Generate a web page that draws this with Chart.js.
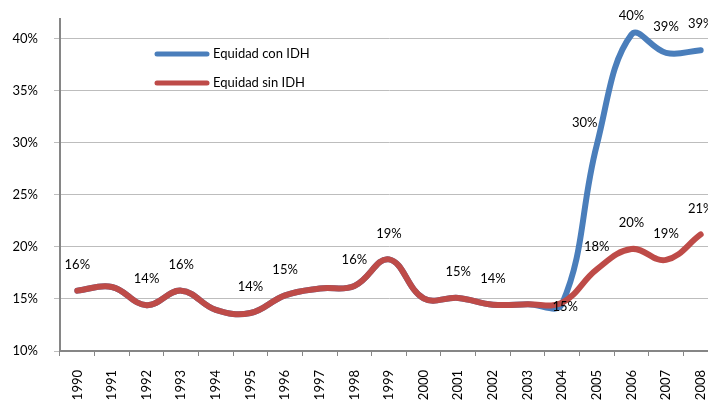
<!DOCTYPE html>
<html>
<head>
<meta charset="utf-8">
<script src="https://cdn.jsdelivr.net/npm/chart.js@4/dist/chart.umd.min.js"></script>
<style>
  html, body { margin: 0; padding: 0; background: #ffffff; overflow: hidden; width: 708px; height: 401px; }
  #wrap { position: absolute; left: 0; top: 0; width: 740px; height: 401px; }
</style>
</head>
<body>
<div id="wrap"><canvas id="c" width="740" height="401"></canvas></div>
<script>
// ---- data ----
const years = ['1990','1991','1992','1993','1994','1995','1996','1997','1998','1999',
               '2000','2001','2002','2003','2004','2005','2006','2007','2008'];
const conIDH = [15.8, 16.15, 14.4, 15.8, 13.95, 13.65, 15.35, 16.0, 16.25, 18.8,
                15.05, 15.1, 14.45, 14.5, 14.55, 29.8, 40.4, 38.65, 38.9];
const sinIDH = [15.8, 16.15, 14.4, 15.8, 13.95, 13.65, 15.35, 16.0, 16.25, 18.8,
                15.05, 15.1, 14.45, 14.5, 14.65, 17.85, 19.8, 18.75, 21.2];
const seriesNames = ['Equidad con IDH', 'Equidad sin IDH'];
// which points carry a data label in the reference
const conLabelYears = ['2004','2005','2006','2007','2008'];
const sinLabelYears = ['1990','1992','1993','1995','1996','1998','1999','2001','2002','2005','2006','2007','2008'];
const yTicks = [10, 15, 20, 25, 30, 35, 40];

// ---- styles ----
const BLUE = '#4a7ebb';
const RED = '#be4b48';
const FONT = 'Lato, "Open Sans", sans-serif';
const labelOffsets = {           // per-series label placement tweaks (px)
  0: { '2004': [3, 3], '2005': [-12, -22], '2006': [0, -19] },
  1: { '2005': [0, -22] }
};
const DEFAULT_DY = -26;

const labelPlugin = {
  id: 'pointLabels',
  afterDatasetsDraw(chart) {
    const ctx = chart.ctx;
    ctx.save();
    ctx.font = '13px ' + FONT;
    ctx.fillStyle = '#000000';
    ctx.textAlign = 'center';
    ctx.textBaseline = 'middle';
    chart.data.datasets.forEach((ds, di) => {
      const meta = chart.getDatasetMeta(di);
      ds.labelYears.forEach(yr => {
        const i = years.indexOf(yr);
        const pt = meta.data[i];
        const off = (labelOffsets[di] && labelOffsets[di][yr]) || [0, DEFAULT_DY];
        ctx.fillText(Math.round(ds.data[i]) + '%', pt.x + off[0], pt.y + off[1]);
      });
    });
    ctx.restore();
  }
};

const legendPlugin = {
  id: 'innerLegend',
  afterDraw(chart) {
    const ctx = chart.ctx;
    const rows = [54, 83];
    ctx.save();
    chart.data.datasets.forEach((ds, di) => {
      const y = rows[di];
      ctx.strokeStyle = ds.borderColor;
      ctx.lineWidth = 5;
      ctx.lineCap = 'round';
      ctx.beginPath();
      ctx.moveTo(157, y);
      ctx.lineTo(207, y);
      ctx.stroke();
      ctx.font = '13px ' + FONT;
      ctx.fillStyle = '#000000';
      ctx.textAlign = 'left';
      ctx.textBaseline = 'middle';
      ctx.fillText(ds.label, 213, y);
    });
    ctx.restore();
  }
};

new Chart(document.getElementById('c'), {
  type: 'line',
  data: {
    labels: years,
    datasets: [
      { label: seriesNames[0], data: conIDH, labelYears: conLabelYears, borderColor: BLUE,
        backgroundColor: BLUE, borderWidth: 6, pointRadius: 0, tension: 0.4, order: 1,
        borderCapStyle: 'round', borderJoinStyle: 'round' },
      { label: seriesNames[1], data: sinIDH, labelYears: sinLabelYears, borderColor: RED,
        backgroundColor: RED, borderWidth: 6, pointRadius: 0, tension: 0.4, order: 0,
        borderCapStyle: 'round', borderJoinStyle: 'round' }
    ]
  },
  options: {
    responsive: false,
    animation: false,
    devicePixelRatio: 1,
    layout: { padding: { top: 19, right: 22, left: 0, bottom: 0 } },
    plugins: { legend: { display: false }, tooltip: { enabled: false } },
    scales: {
      x: {
        type: 'category',
        offset: true,
        afterFit(scale) { scale.height = 50; scale.paddingLeft = 0; scale.paddingRight = 0; },
        grid: { offset: true, drawOnChartArea: false, drawTicks: true, tickLength: 5, color: '#868686', lineWidth: 1 },
        border: { display: true, color: '#868686', width: 2 },
        ticks: { minRotation: 90, maxRotation: 90, autoSkip: false, padding: 14,
                 font: { family: FONT, size: 13 }, color: '#000000' }
      },
      y: {
        min: yTicks[0],
        max: 41.9,
        afterFit(scale) { scale.width = 60; scale.paddingTop = 0; scale.paddingBottom = 0; },
        afterBuildTicks(scale) { scale.ticks = yTicks.map(v => ({ value: v })); },
        grid: { color: '#bdbdbd', lineWidth: 1, tickLength: 6, drawTicks: true },
        border: { display: true, color: '#868686', width: 2 },
        ticks: { padding: 16, font: { family: FONT, size: 13 }, color: '#000000',
                 callback: v => v + '%' }
      }
    }
  },
  plugins: [labelPlugin, legendPlugin]
});
</script>
</body>
</html>
